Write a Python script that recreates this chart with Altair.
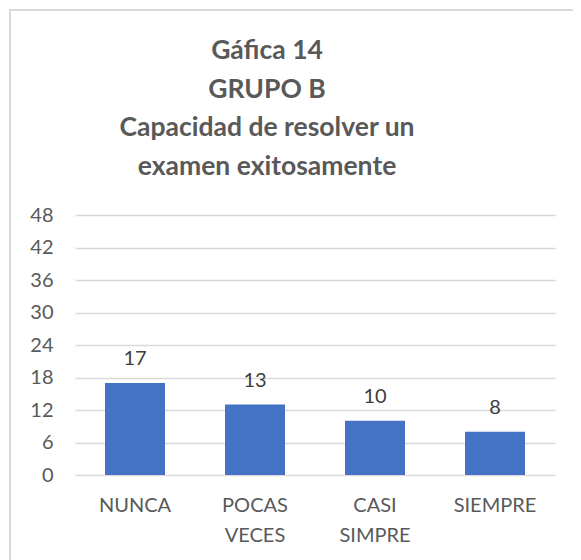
import altair as alt
import pandas as pd

categories = ["NUNCA", "POCAS VECES", "CASI SIMPRE", "SIEMPRE"]
values = [17, 13, 10, 8]
title_lines = ["Gáfica 14", "GRUPO B", "Capacidad de resolver un", "examen exitosamente"]
y_ticks = [0, 6, 12, 18, 24, 30, 36, 42, 48]

df = pd.DataFrame({"cat": categories, "val": values})

FONT = "Lato"

x_enc = alt.X("cat:N", sort=categories, title=None,
              scale=alt.Scale(paddingInner=0.5, paddingOuter=0.25),
              axis=alt.Axis(labelAngle=0, labelFont=FONT, labelFontSize=20,
                            labelColor="#595959", labelPadding=20,
                            labelLineHeight=30, labelExpr="split(datum.label, ' ')",
                            domain=False, ticks=False, grid=False))
y_enc = alt.Y("val:Q", title=None,
              scale=alt.Scale(domain=[0, 48], nice=False),
              axis=alt.Axis(values=y_ticks, labelFont=FONT, labelFontSize=20,
                            labelColor="#595959", labelPadding=22,
                            labelOverlap=False, tickCount=9,
                            domain=False, ticks=False, grid=True,
                            gridColor="#D9D9D9", gridWidth=1.5))

base = alt.Chart(df)
bars = base.mark_bar(color="#4472C4").encode(x=x_enc, y=y_enc)
labels = base.mark_text(font=FONT, fontSize=20, color="#404040",
                        baseline="bottom", dy=-14).encode(
    x=x_enc, y=y_enc, text="val:Q")

frame = alt.Chart(alt.Data(values=[{}])).mark_rect(
    fill=None, stroke="#D9D9D9", strokeWidth=2).encode(
    x=alt.value(-65), x2=alt.value(700), y=alt.value(-205), y2=alt.value(600))

title = alt.Chart(alt.Data(values=[{}])).mark_text(
    text=title_lines, font=FONT, fontSize=26.5, fontWeight="bold",
    color="#595959", lineHeight=38.5, align="center", baseline="alphabetic").encode(
    x=alt.value(192), y=alt.value(-156))

chart = alt.layer(frame, title, bars, labels).properties(
    width=480, height=260,
    autosize=alt.AutoSizeParams(type="none"),
    padding={"left": 67, "top": 207, "right": 18, "bottom": 85},
).configure_view(stroke=None)

chart.save("out.html", embed_options={"renderer": "svg", "actions": False})
